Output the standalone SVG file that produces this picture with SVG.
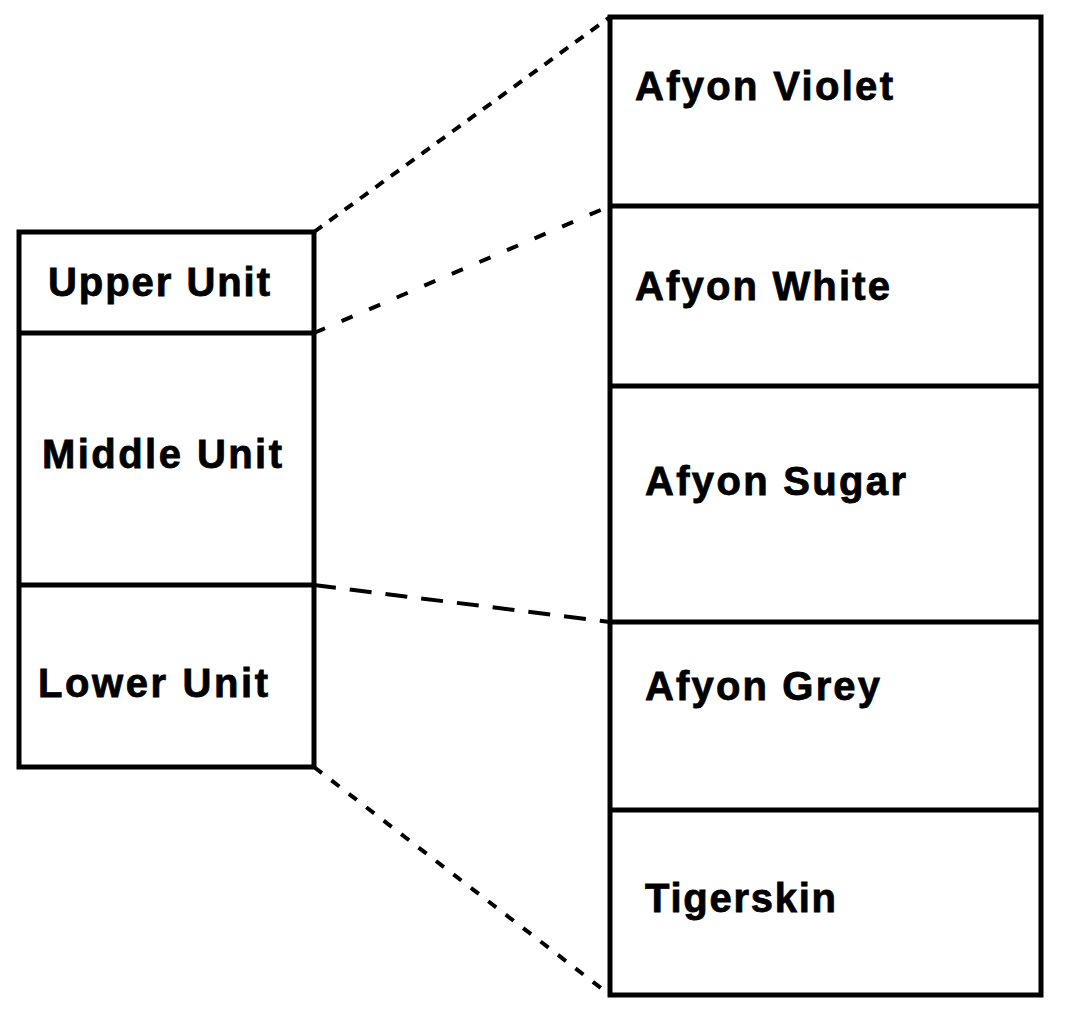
<svg xmlns="http://www.w3.org/2000/svg" width="1069" height="1013" viewBox="0 0 1069 1013">
<style>
.box{fill:#fff;stroke:#000;stroke-width:5}
.div{stroke:#000;stroke-width:5}
.lbl{font-family:"Liberation Sans",Arial,sans-serif;font-weight:bold;font-size:40px;fill:#000;stroke:#000;stroke-width:0.8}
.con{stroke:#000;stroke-width:4;fill:none}
</style>
<rect width="1069" height="1013" fill="#fff"/>
<g id="connectors">
<line class="con" x1="314" y1="232" x2="610" y2="17" stroke-dasharray="10 9"/>
<line class="con" x1="314" y1="333" x2="610" y2="206" stroke-dasharray="12 18"/>
<line class="con" x1="314" y1="585" x2="610" y2="622" stroke-width="5" stroke-dasharray="22 14"/>
<line class="con" x1="314" y1="767" x2="610" y2="995" stroke-dasharray="10 12"/>
</g>
<g id="left-column">
<rect class="box" x="19" y="232" width="295" height="535"/>
<g id="upper-unit"><line class="div" x1="19" y1="333" x2="314" y2="333"/><text class="lbl" x="48" y="296" textLength="222">Upper Unit</text></g>
<g id="middle-unit"><line class="div" x1="19" y1="585" x2="314" y2="585"/><text class="lbl" x="42" y="468" textLength="240">Middle Unit</text></g>
<g id="lower-unit"><text class="lbl" x="38" y="697" textLength="230">Lower Unit</text></g>
</g>
<g id="right-column">
<rect class="box" x="610" y="17" width="431" height="978"/>
<g id="afyon-violet"><line class="div" x1="610" y1="206" x2="1041" y2="206"/><text class="lbl" x="635" y="100" textLength="258">Afyon Violet</text></g>
<g id="afyon-white"><line class="div" x1="610" y1="386" x2="1041" y2="386"/><text class="lbl" x="635" y="300" textLength="255">Afyon White</text></g>
<g id="afyon-sugar"><line class="div" x1="610" y1="622" x2="1041" y2="622"/><text class="lbl" x="645" y="495" textLength="261">Afyon Sugar</text></g>
<g id="afyon-grey"><line class="div" x1="610" y1="810" x2="1041" y2="810"/><text class="lbl" x="645" y="700" textLength="235">Afyon Grey</text></g>
<g id="tigerskin"><text class="lbl" x="645" y="912" textLength="191">Tigerskin</text></g>
</g>
</svg>
